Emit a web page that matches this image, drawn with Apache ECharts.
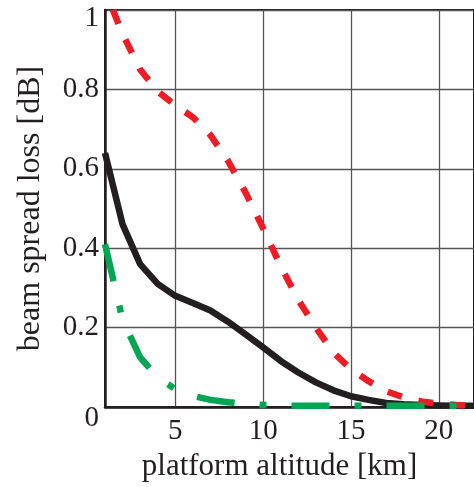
<!DOCTYPE html>
<html>
<head>
<meta charset="utf-8">
<script src="https://cdn.jsdelivr.net/npm/echarts@6/dist/echarts.min.js"></script>
<style>
  html, body { margin: 0; padding: 0; background: #fff; }
  #chart { width: 474px; height: 487px; }
</style>
</head>
<body>
<div id="chart"></div>
<script>
// altitude in km
const altitude = [1, 2, 3, 4, 5, 6, 7, 8, 9, 10, 11, 12, 13, 14, 15, 16, 17, 18, 19, 20, 21, 22];
// solid black curve
const blackLoss = [0.64, 0.46, 0.36, 0.31, 0.28, 0.262, 0.243, 0.215, 0.183, 0.15, 0.116, 0.087,
  0.062, 0.042, 0.027, 0.018, 0.01, 0.007, 0.005, 0.004, 0.003, 0.003];
// red dashed curve (enters the plot at about 1.45 km)
const redAltitude = [1.45, 2, 3, 4, 5, 6, 7, 8, 9, 10, 11, 12, 13, 14, 15, 16, 17, 18, 19, 20, 21, 22];
const redLoss = [1.0, 0.94, 0.85, 0.795, 0.76, 0.73, 0.685, 0.62, 0.54, 0.45, 0.355, 0.27,
  0.2, 0.137, 0.095, 0.065, 0.04, 0.024, 0.014, 0.008, 0.005, 0.003];
// green dash-dot curve
const greenLoss = [0.41, 0.22, 0.125, 0.075, 0.045, 0.028, 0.018, 0.012, 0.008, 0.005, 0.004, 0.003,
  0.003, 0.003, 0.003, 0.003, 0.003, 0.003, 0.003, 0.003, 0.003, 0.003];
const xTicks = [5, 10, 15, 20];

const pairs = (xs, ys) => xs.map((x, i) => [x, ys[i]]);

const font = 'Liberation Serif';
const ink = '#231f20';

let myChart = echarts.init(document.getElementById('chart'));
let option = {
  animation: false,
  grid: {
    left: 105, top: 10, bottom: 80, right: -3,
    show: true, borderColor: ink, borderWidth: 2, backgroundColor: 'transparent'
  },
  xAxis: {
    type: 'value',
    min: 1,
    max: 22,
    name: 'platform altitude [km]',
    nameLocation: 'middle',
    nameGap: 44,
    nameTextStyle: { fontFamily: font, fontSize: 31, color: ink, padding: [0, 20, 0, 0] },
    axisLine: { show: true, lineStyle: { color: ink, width: 2.5 } },
    axisTick: { show: false, customValues: xTicks },
    axisLabel: {
      customValues: xTicks,
      margin: 10,
      fontFamily: font, fontSize: 29, color: ink
    },
    splitLine: { show: true, lineStyle: { color: '#555', width: 1.3 } }
  },
  yAxis: {
    type: 'value',
    min: 0,
    max: 1,
    interval: 0.2,
    name: 'beam spread loss [dB]',
    nameLocation: 'middle',
    nameGap: 58,
    nameTextStyle: { fontFamily: font, fontSize: 32, color: ink },
    axisLine: { show: true, lineStyle: { color: ink, width: 2.5 } },
    axisTick: { show: false },
    axisLabel: {
      margin: 6,
      fontFamily: font, fontSize: 29, color: ink,
      formatter: function (v) {
        if (v === 0) return '{z|0}';
        if (v === 1) return '{o|1}';
        return String(v);
      },
      rich: {
        z: { fontFamily: font, fontSize: 29, color: ink, padding: [22, 0, 0, 0] },
        o: { fontFamily: font, fontSize: 29, color: ink, padding: [16, 0, 0, 0] }
      }
    },
    splitLine: { show: true, lineStyle: { color: '#555', width: 1.3 } }
  },
  series: [
    {
      type: 'line',
      data: pairs(altitude, blackLoss),
      showSymbol: false,
      lineStyle: { color: ink, width: 6.5 },
      z: 2
    },
    {
      type: 'line',
      data: pairs(redAltitude, redLoss),
      showSymbol: false,
      lineStyle: { color: '#ee1c25', width: 6.5, type: [15, 17], cap: 'butt' },
      z: 3
    },
    {
      type: 'line',
      data: pairs(altitude, greenLoss),
      showSymbol: false,
      lineStyle: { color: '#00a651', width: 6.5, type: [38, 25, 7, 25], cap: 'butt' },
      z: 4
    }
  ]
};
myChart.setOption(option);
</script>
</body>
</html>
